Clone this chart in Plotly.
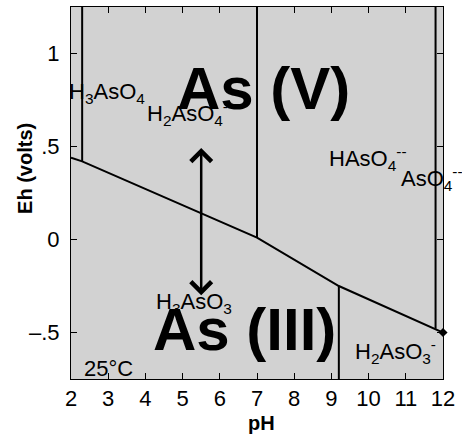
import plotly.graph_objects as go

# ---- data ----
ph_boundary = [2.0, 2.3, 7.0, 9.2, 12.0]          # As(V)/As(III) boundary
eh_boundary = [0.44, 0.42, 0.01, -0.25, -0.50]

v_ph = [2.3, 7.0, 11.8, 9.2]                      # species boundaries (vertical)
v_lo = [0.42, 0.01, -0.48, -0.75]
v_hi = [1.25, 1.25, 1.25, -0.25]

arrow_ph = 5.5
arrow_top = 0.50
arrow_bottom = -0.30

x_ticks = list(range(2, 13))
y_ticks = [-0.5, 0, 0.5, 1]
y_ticktext = ["–.5", "0", ".5", "1"]

small_labels = ["H<sub>3</sub>AsO<sub>4</sub>", "H<sub>2</sub>AsO<sub>4</sub><sup>-</sup>",
                "HAsO<sub>4</sub><sup>--</sup>", "AsO<sub>4</sub><sup>--</sup>",
                "H<sub>3</sub>AsO<sub>3</sub>", "H<sub>2</sub>AsO<sub>3</sub><sup>-</sup>", "25°C"]
small_ph = [2.0, 3.99, 8.88, 10.82, 4.23, 9.58, 2.30]
small_eh = [0.787, 0.680, 0.434, 0.327, -0.343, -0.60, -0.696]
small_xshift = [-4, 0, 0, 0, 0, 0, 0]

big_labels = ["As (V)", "As (III)"]
big_ph = [4.80, 4.15]
big_eh = [0.814, -0.485]

FONT = "Liberation Sans, Arial, sans-serif"

fig = go.Figure()
fig.add_trace(go.Scatter(x=ph_boundary, y=eh_boundary, mode="lines",
                         line=dict(color="black", width=2), showlegend=False,
                         hoverinfo="skip"))
fig.add_trace(go.Scatter(x=[ph_boundary[-1]], y=[eh_boundary[-1]], mode="markers",
                         marker=dict(symbol="diamond", size=7, color="black"),
                         cliponaxis=False, showlegend=False, hoverinfo="skip"))
for p, lo, hi in zip(v_ph, v_lo, v_hi):
    fig.add_trace(go.Scatter(x=[p, p], y=[lo, hi], mode="lines",
                             line=dict(color="black", width=2), showlegend=False,
                             hoverinfo="skip"))

annotations = []
annotations.append(dict(x=arrow_ph, y=arrow_bottom, ax=arrow_ph, ay=arrow_top,
                        xref="x", yref="y", axref="x", ayref="y", text="",
                        showarrow=True, arrowhead=4, startarrowhead=4,
                        arrowside="end+start", arrowwidth=2.5, arrowsize=1.6,
                        startarrowsize=1.6, arrowcolor="black"))
for t, x, y, xs in zip(small_labels, small_ph, small_eh, small_xshift):
    annotations.append(dict(x=x, y=y, xref="x", yref="y", text=t, showarrow=False,
                            xanchor="left", yanchor="middle", xshift=xs,
                            font=dict(family=FONT, size=22, color="black")))
for t, x, y in zip(big_labels, big_ph, big_eh):
    annotations.append(dict(x=x, y=y, xref="x", yref="y", text="<b>" + t + "</b>",
                            showarrow=False, xanchor="left", yanchor="middle",
                            font=dict(family=FONT, size=60, color="black")))
annotations.append(dict(x=-0.124, y=0.567, xref="paper", yref="paper",
                        text="<b>Eh (volts)</b>", textangle=-90, showarrow=False,
                        xanchor="center", yanchor="middle",
                        font=dict(family=FONT, size=20, color="black")))
annotations.append(dict(x=0.511, y=-0.118, xref="paper", yref="paper",
                        text="<b>pH</b>", showarrow=False,
                        xanchor="center", yanchor="middle",
                        font=dict(family=FONT, size=20, color="black")))

fig.update_layout(
    width=462, height=440, autosize=False,
    margin=dict(l=71, r=19, t=7, b=61, pad=0),
    plot_bgcolor="rgb(210,210,210)", paper_bgcolor="white",
    annotations=annotations,
    xaxis=dict(range=[2, 12], tickvals=x_ticks, ticks="inside", ticklen=6,
               tickcolor="black", showline=True, linecolor="black", linewidth=1,
               mirror="ticks", showgrid=False, zeroline=False,
               tickfont=dict(family=FONT, size=22, color="black")),
    yaxis=dict(range=[-0.75, 1.25], tickvals=y_ticks, ticktext=y_ticktext,
               ticks="inside", ticklen=6, tickcolor="black", showline=True,
               linecolor="black", linewidth=1, mirror="ticks", showgrid=False,
               zeroline=False, ticklabelstandoff=6,
               tickfont=dict(family=FONT, size=22, color="black")),
)

fig.write_html("out.html")
